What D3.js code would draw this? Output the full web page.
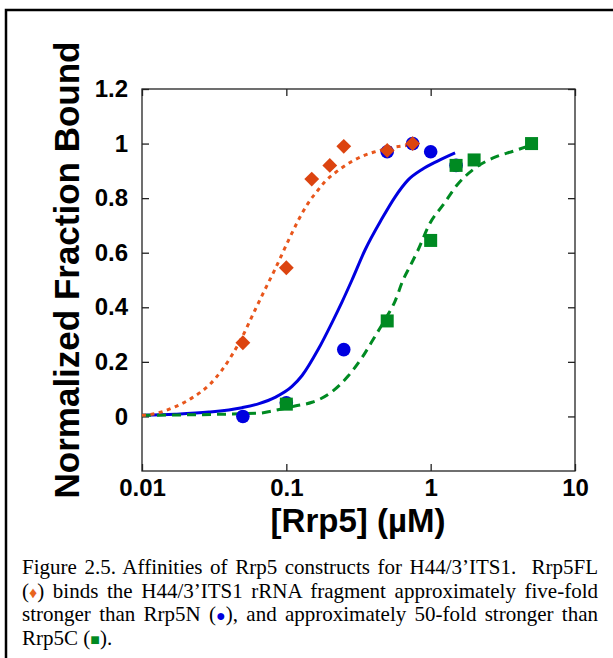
<!DOCTYPE html>
<html>
<head>
<meta charset="utf-8">
<script src="https://cdn.jsdelivr.net/npm/d3@7"></script>
<style>
  body { margin: 0; background: #fff; }
  svg { display: block; }
</style>
</head>
<body>
<div class="chartDiv"></div>
<script>
"use strict";

// Data
var xTickValues = [0.01, 0.1, 1, 10];
var xTickLabels = ["0.01", "0.1", "1", "10"];
var yTickValues = [0, 0.2, 0.4, 0.6, 0.8, 1, 1.2];
var yTickLabels = ["0", "0.2", "0.4", "0.6", "0.8", "1", "1.2"];

// Rrp5FL (diamonds)
var flConc  = [0.05, 0.1, 0.15, 0.2, 0.25, 0.5, 0.75];
var flBound = [0.27, 0.545, 0.87, 0.92, 0.99, 0.975, 1.0];
// Rrp5N (circles)
var nConc  = [0.05, 0.1, 0.25, 0.5, 0.75, 1, 1.5];
var nBound = [0.0, 0.05, 0.245, 0.97, 1.0, 0.97, 0.92];
// Rrp5C (squares)
var cConc  = [0.1, 0.5, 1, 1.5, 2, 5];
var cBound = [0.045, 0.35, 0.645, 0.92, 0.94, 1.0];

// fitted curves
var flFitX = [0.01, 0.0117, 0.0169, 0.0222, 0.0296, 0.0358, 0.0493, 0.0607, 0.0711, 0.0836, 0.1045, 0.12, 0.141, 0.166, 0.185, 0.218, 0.247, 0.29, 0.34, 0.40, 0.483, 0.743];
var flFitY = [0.004, 0.008, 0.035, 0.068, 0.118, 0.17, 0.29, 0.39, 0.465, 0.54, 0.65, 0.715, 0.78, 0.83, 0.86, 0.893, 0.914, 0.937, 0.955, 0.968, 0.98, 0.995];
var nFitX = [0.01, 0.0169, 0.0291, 0.0493, 0.0647, 0.0836, 0.1095, 0.1286, 0.166, 0.2073, 0.2433, 0.285, 0.351, 0.46, 0.566, 0.696, 0.871, 1.107, 1.476];
var nFitY = [0.004, 0.008, 0.016, 0.032, 0.047, 0.07, 0.11, 0.15, 0.245, 0.344, 0.42, 0.50, 0.61, 0.725, 0.804, 0.866, 0.905, 0.935, 0.966];
var cFitX = [0.01, 0.0647, 0.0796, 0.1148, 0.1507, 0.1946, 0.268, 0.335, 0.412, 0.483, 0.566, 0.644, 0.719, 0.818, 0.991, 1.219, 1.524, 2.03, 2.79, 3.72, 5.0];
var cFitY = [0.004, 0.012, 0.02, 0.038, 0.052, 0.08, 0.148, 0.216, 0.294, 0.355, 0.422, 0.50, 0.55, 0.61, 0.709, 0.775, 0.848, 0.91, 0.95, 0.972, 0.995];

var captionLines = [
    [{ t: "Figure 2.5. Affinities of Rrp5 constructs for H44/3\u2019ITS1.  Rrp5FL" }],
    [{ t: "(" }, { t: "\u2666", c: "#e8651e" }, { t: ") binds the H44/3\u2019ITS1 rRNA fragment approximately five-fold" }],
    [{ t: "stronger than Rrp5N (" }, { t: "\u25CF", c: "#0000dd" }, { t: "), and approximately 50-fold stronger than" }],
    [{ t: "Rrp5C (" }, { t: "\u25A0", c: "#008a22" }, { t: ")." }]
];

var zip = function(xs, ys) { return xs.map(function(v, i) { return [v, ys[i]]; }); };

// Colours
var orangeMark = "#dc4410";
var orangeLine = "#e8561c";
var blue = "#0000e0";
var green = "#008a22";

var sansFamily = "Liberation Sans, Arial, Helvetica, sans-serif";
var serifFamily = "Liberation Serif, Times New Roman, Times, serif";

var W = 613, H = 658;
var plot = { left: 142, right: 575, top: 89, bottom: 471 };

var svg = d3.select(".chartDiv").append("svg")
    .attr("width", W)
    .attr("height", H);

// outer frame
svg.append("path")
    .attr("d", "M6,660 V10 H620")
    .attr("fill", "none")
    .attr("stroke", "#000")
    .attr("stroke-width", 2.5);

var x = d3.scaleLog().domain([0.01, 10]).range([plot.left, plot.right]);
var y = d3.scaleLinear().domain([-0.2, 1.2]).range([plot.bottom, plot.top]);

// left axis
var yAxis = svg.append("g")
    .attr("transform", "translate(" + plot.left + ",0)")
    .call(d3.axisLeft(y).tickValues(yTickValues)
        .tickFormat(function(d, i) { return yTickLabels[i]; })
        .tickSizeInner(-7).tickSizeOuter(0).tickPadding(14));
// right axis
var yAxisR = svg.append("g")
    .attr("transform", "translate(" + plot.right + ",0)")
    .call(d3.axisRight(y).tickValues(yTickValues).tickFormat("")
        .tickSizeInner(-7).tickSizeOuter(0));
// bottom axis
var xAxis = svg.append("g")
    .attr("transform", "translate(0," + plot.bottom + ")")
    .call(d3.axisBottom(x).tickValues(xTickValues)
        .tickFormat(function(d, i) { return xTickLabels[i]; })
        .tickSizeInner(-7).tickSizeOuter(0).tickPadding(8));
// top axis
var xAxisT = svg.append("g")
    .attr("transform", "translate(0," + plot.top + ")")
    .call(d3.axisTop(x).tickValues(xTickValues).tickFormat("")
        .tickSizeInner(-7).tickSizeOuter(0));

[yAxis, yAxisR, xAxis, xAxisT].forEach(function(g) {
    g.attr("font-family", null).attr("font-size", null);
    g.select(".domain").remove();
    g.selectAll(".tick line").attr("stroke", "#222").attr("stroke-width", 1.3);
    g.selectAll(".tick text")
        .attr("font-family", sansFamily)
        .attr("font-weight", "bold")
        .attr("font-size", 24)
        .attr("fill", "#000");
});

// frame of plot area
svg.append("rect")
    .attr("x", plot.left).attr("y", plot.top)
    .attr("width", plot.right - plot.left)
    .attr("height", plot.bottom - plot.top)
    .attr("fill", "none")
    .attr("stroke", "#222")
    .attr("stroke-width", 1.3);

// axis titles
svg.append("text")
    .attr("transform", "translate(79,270) rotate(-90)")
    .attr("text-anchor", "middle")
    .attr("font-family", sansFamily)
    .attr("font-weight", "bold")
    .attr("font-size", 35)
    .text("Normalized Fraction Bound");

svg.append("text")
    .attr("x", 358)
    .attr("y", 532)
    .attr("text-anchor", "middle")
    .attr("font-family", sansFamily)
    .attr("font-weight", "bold")
    .attr("font-size", 33)
    .text("[Rrp5] (\u00B5M)");

// curves
var line = d3.line()
    .x(function(d) { return x(d[0]); })
    .y(function(d) { return y(d[1]); })
    .curve(d3.curveMonotoneX);

svg.append("path")
    .datum(zip(nFitX, nFitY))
    .attr("d", line)
    .attr("fill", "none")
    .attr("stroke", blue)
    .attr("stroke-width", 3);

svg.append("path")
    .datum(zip(cFitX, cFitY))
    .attr("d", line)
    .attr("fill", "none")
    .attr("stroke", green)
    .attr("stroke-width", 3)
    .attr("stroke-dasharray", "9,6");

svg.append("path")
    .datum(zip(flFitX, flFitY))
    .attr("d", line)
    .attr("fill", "none")
    .attr("stroke", orangeLine)
    .attr("stroke-width", 3)
    .attr("stroke-dasharray", "4,4.5");

// markers
svg.selectAll(".ptN")
    .data(zip(nConc, nBound)).enter()
    .append("circle")
    .attr("class", "ptN")
    .attr("cx", function(d) { return x(d[0]); })
    .attr("cy", function(d) { return y(d[1]); })
    .attr("r", 6.8)
    .attr("fill", blue);

svg.selectAll(".ptC")
    .data(zip(cConc, cBound)).enter()
    .append("rect")
    .attr("class", "ptC")
    .attr("x", function(d) { return x(d[0]) - 6.5; })
    .attr("y", function(d) { return y(d[1]) - 6.5; })
    .attr("width", 13)
    .attr("height", 13)
    .attr("fill", green);

var diamond = d3.symbol().type(d3.symbolSquare).size(110);
svg.selectAll(".ptFL")
    .data(zip(flConc, flBound)).enter()
    .append("path")
    .attr("class", "ptFL")
    .attr("d", diamond)
    .attr("transform", function(d) { return "translate(" + x(d[0]) + "," + y(d[1]) + ") rotate(45)"; })
    .attr("fill", orangeMark);

// caption, justified by widening the word gaps
var capLeft = 22, capRight = 598, capTop = 574, capStep = 23.5;
captionLines.forEach(function(parts, i) {
    var t = svg.append("text")
        .attr("x", capLeft)
        .attr("y", capTop + i * capStep)
        .attr("font-family", serifFamily)
        .attr("font-size", 21)
        .attr("fill", "#000")
        .attr("xml:space", "preserve");
    parts.forEach(function(p) {
        var s = t.append("tspan").text(p.t);
        if (p.c) s.attr("fill", p.c).attr("font-size", 16);
    });
    if (i < captionLines.length - 1)
    {
        var natural = t.node().getComputedTextLength();
        var gaps = parts.map(function(p) { return p.t; }).join("").split(" ").length - 1;
        if (gaps > 0)
            t.attr("word-spacing", (capRight - capLeft - natural) / gaps);
    }
});
</script>
</body>
</html>
